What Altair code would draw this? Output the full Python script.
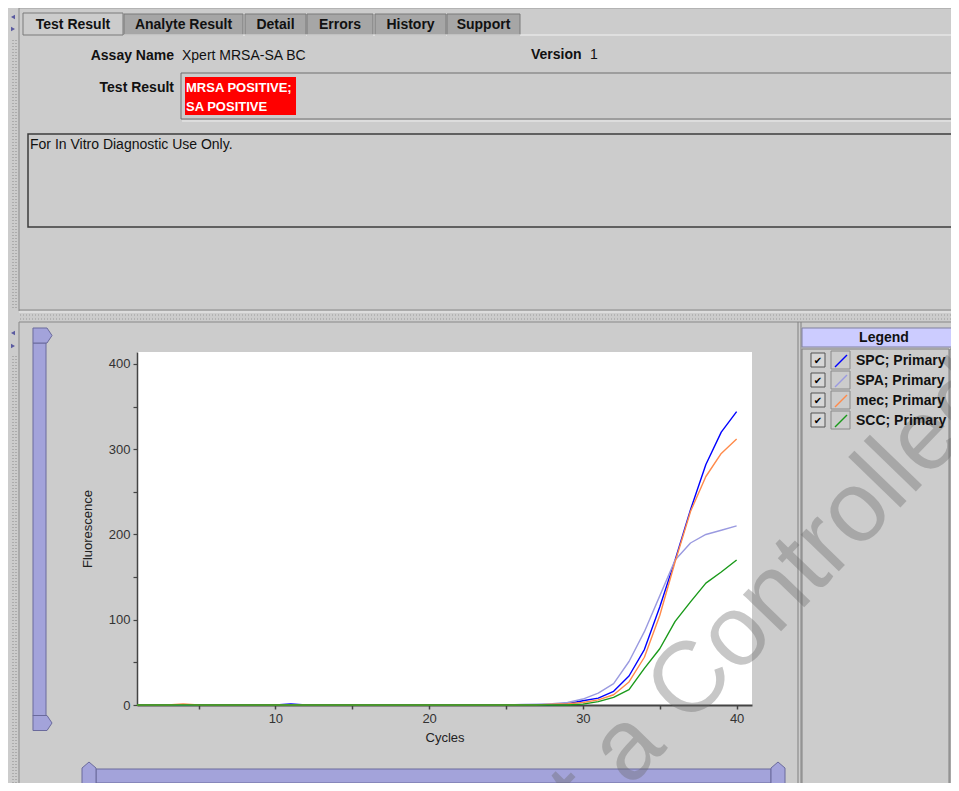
import altair as alt
import pandas as pd

# ---------------- data ----------------
cycles = list(range(1, 41))
series_names = ["SPC", "SPA", "mec", "SCC"]
series_colors = ["#0000ff", "#9a9ae0", "#ff8a4a", "#1a9a1a"]

spc = [0, 0, 0, 0, 0, 0, 0, 0, 0, 0, 1.2, 0, 0, 0, 0, 0, 0, 0, 0, 0,
       0, 0, 0, 0, 0, 0, 0, 0.5, 1.5, 5, 8, 16, 34, 65, 115, 170, 229, 282, 320, 344]
spa = [0, 0, 0, 0, 0, 0, 0, 0, 0, 0, 0, 0, 0, 0, 0, 0, 0, 0, 0, 0,
       0, 0, 0, 0, 0, 0.5, 1, 1.5, 3, 7, 14, 25, 51, 86, 128, 170, 190, 200, 205, 210]
mec = [0, 0, 0, 1.2, 0, 0, 0, 0, 0, 0, 0, 0, 0, 0, 0, 0, 0, 0, 0, 0,
       0, 0, 0, 0, 0, 0, 0, 1, 1.5, 3, 6, 12, 27, 56, 105, 168, 227, 268, 295, 312]
scc = [0, 0, 0, 0, 0, 0, 0, 0, 0, 0, 0, 0, 0, 0, 0, 0, 0, 0, 0, 0,
       0, 0, 0, 0, 0, 0, 0, 0, 0, 1, 4, 9, 18, 43, 66, 98, 121, 143, 156, 170]

x_ticks = [5, 10, 15, 20, 25, 30, 35, 40]
y_ticks = [0, 50, 100, 150, 200, 250, 300, 350, 400]

tabs = ["Test Result", "Analyte Result", "Detail", "Errors", "History", "Support"]
assay_label = "Assay Name"
assay_name = "Xpert MRSA-SA BC"
version_label = "Version"
version = "1"
result_label = "Test Result"
result_lines = ["MRSA POSITIVE;", "SA POSITIVE"]
note = "For In Vitro Diagnostic Use Only."
legend_title = "Legend"
watermark = "Not a Controlled Copy"

rows = []
for name, vals in zip(series_names, [spc, spa, mec, scc]):
    for c, v in zip(cycles, vals):
        rows.append({"Cycle": c, "Fluorescence": v, "Series": name})
df = pd.DataFrame(rows)

FONT = "Liberation Sans"
OX, OY = 137, 352          # page position of the plot origin
one = pd.DataFrame({"k": [0]})


def R(x1, y1, x2, y2, fill="transparent", stroke=None, sw=1):
    kw = dict(fill=fill)
    if stroke:
        kw.update(stroke=stroke, strokeWidth=sw)
    return alt.Chart(one).mark_rect(**kw).encode(
        x=alt.value(x1 - OX), x2=alt.value(x2 - OX),
        y=alt.value(y1 - OY), y2=alt.value(y2 - OY))


def L(x1, y1, x2, y2, color="#888888", sw=1, dash=None):
    kw = dict(color=color, strokeWidth=sw)
    if dash:
        kw["strokeDash"] = dash
    return alt.Chart(one).mark_rule(**kw).encode(
        x=alt.value(x1 - OX), x2=alt.value(x2 - OX),
        y=alt.value(y1 - OY), y2=alt.value(y2 - OY))


def T(x, y, s, size=14, bold=False, color="#000000", align="left",
      baseline="middle", font=FONT, angle=None, opacity=None):
    kw = dict(text=s, fontSize=size, font=font, color=color, align=align, baseline=baseline)
    if bold:
        kw["fontWeight"] = "bold"
    if angle is not None:
        kw["angle"] = angle
    if opacity is not None:
        kw["opacity"] = opacity
    return alt.Chart(one).mark_text(**kw).encode(x=alt.value(x - OX), y=alt.value(y - OY))


def P(x, y, shape, size=30, fill="#5a5aa0", stroke=None):
    kw = dict(shape=shape, filled=True, size=size, fill=fill, opacity=1)
    if stroke:
        kw.update(stroke=stroke, strokeWidth=1)
    else:
        kw.update(strokeWidth=0)
    return alt.Chart(one).mark_point(**kw).encode(x=alt.value(x - OX), y=alt.value(y - OY))


SLIDER = "#a3a3da"
SLIDER_EDGE = "#6a6a9c"

back = []
# frame of the top panel
back += [L(19, 8, 959, 8, "#9a9a9a"), L(19, 8, 19, 311, "#888888"),
         L(13, 40, 13, 308, "#8c8c8c", 1, [1, 2]), L(16, 40, 16, 308, "#8c8c8c", 1, [1, 2]),
         P(13, 17, "triangle-left", 22), P(13, 29, "triangle-right", 22)]
# tabs
tab_edges = [(23, 123), (124, 243), (245, 306), (307, 373), (375, 446), (447, 520)]
for i, (name, (a, b)) in enumerate(zip(tabs, tab_edges)):
    back.append(R(a, 13 if i == 0 else 14, b, 35,
                  fill="#cccccc" if i == 0 else "#a6a6a6", stroke="#7a7a7a"))
    back.append(T((a + b) / 2, 24.5, name, 14, True, "#111111", "center"))
back.append(L(124, 35, 959, 35, "#f2f2f2"))
# assay info
back += [T(174, 55.5, assay_label, 14, True, "#111111", "right"),
         T(182, 55.5, assay_name, 14, False, "#111111"),
         T(531, 55, version_label, 14, True, "#111111"),
         T(590, 55, version, 14, False, "#111111")]
# test result box
back += [R(181, 73, 965, 119, "transparent", "#6f6f6f"),
         L(182, 121, 959, 121, "#eeeeee"),
         R(185, 77, 296, 115, "#ff0000"),
         T(186, 88, result_lines[0], 13, True, "#ffffff"),
         T(186, 107, result_lines[1], 13, True, "#ffffff"),
         T(174, 88, result_label, 14, True, "#111111", "right")]
# note box
back += [R(28, 134, 965, 227, "transparent", "#3c3c3c", 1.5),
         T(30, 145, note, 14, False, "#111111")]
# separators
back += [L(19, 310, 959, 310, "#888888"), L(19, 312, 959, 312, "#eeeeee"),
         L(20, 315, 959, 315, "#9a9a9a", 1, [1, 2]), L(20, 319, 959, 319, "#9a9a9a", 1, [1, 2]),
         L(19, 322, 959, 322, "#888888"), L(19, 322, 19, 791, "#888888"),
         L(13, 356, 13, 791, "#8c8c8c", 1, [1, 2]), L(16, 356, 16, 791, "#8c8c8c", 1, [1, 2]),
         P(13, 333, "triangle-left", 22), P(13, 346, "triangle-right", 22)]
# vertical slider
back += [R(33, 343, 46, 716, SLIDER, SLIDER_EDGE),
         P(42.5, 335.5, "M-1.27,-1 L0.6,-1 L1.27,0 L0.6,1 L-1.27,1 Z", 225, SLIDER, SLIDER_EDGE),
         P(42.5, 723, "M-1.27,-1 L0.6,-1 L1.27,0 L0.6,1 L-1.27,1 Z", 225, SLIDER, SLIDER_EDGE)]
# horizontal slider
back += [R(96, 769, 771, 783, SLIDER, SLIDER_EDGE),
         P(89, 773, "M0,-1.57 L1,-0.71 L1,1.57 L-1,1.57 L-1,-0.71 Z", 196, SLIDER, SLIDER_EDGE),
         P(778, 773, "M0,-1.57 L1,-0.71 L1,1.57 L-1,1.57 L-1,-0.71 Z", 196, SLIDER, SLIDER_EDGE)]
# legend panel
back += [L(798, 322, 798, 791, "#808080"), L(801, 322, 801, 791, "#808080"),
         R(802, 328, 963, 347, "#ccccff", "#8080a0"),
         T(884, 338, legend_title, 14, True, "#111111", "center"),
         R(802, 349, 949, 796, "transparent", "#808080"),
         R(950, 349, 963, 796, "#cccccc", "#808080"),
         P(955, 357, "triangle-up", 20, "#000000"),
         P(955, 784, "triangle-down", 20, "#000000")]
for i in range(len(series_names)):
    cy = 360 + 20 * i
    back += [R(811, cy - 7, 825, cy + 7, "#d6d6d6", "#555555"),
             T(818, cy + 0.5, "\u2714", 10, False, "#000000", "center", font="DejaVu Sans"),
             R(831, cy - 9, 850, cy + 9, "#cccccc", "#8a8a8a")]

lines = alt.Chart(df).mark_line(strokeWidth=1.4, strokeJoin="round").encode(
    x=alt.X("Cycle:Q", title="Cycles",
            scale=alt.Scale(domain=[1, 41], nice=False, zero=False),
            axis=alt.Axis(values=x_ticks, labelExpr="datum.value % 10 === 0 ? datum.label : ''",
                          grid=False, domainColor="#444444", domainWidth=2, tickColor="#444444",
                          tickSize=4, tickWidth=1.5, labelFont=FONT, labelFontSize=13,
                          labelColor="#333333", labelPadding=3, labelFlush=False,
                          titleFont=FONT, titleFontSize=13, titleFontWeight="normal",
                          titleColor="#222222", titlePadding=6)),
    y=alt.Y("Fluorescence:Q", title="Fluorescence",
            scale=alt.Scale(domain=[0, 414], nice=False),
            axis=alt.Axis(values=y_ticks, labelExpr="datum.value % 100 === 0 ? datum.label : ''",
                          grid=False, domainColor="#444444", domainWidth=1.5, tickColor="#444444",
                          tickSize=4, tickWidth=1.2, labelFont=FONT, labelFontSize=13,
                          labelColor="#333333", labelPadding=3, labelFlush=False,
                          titleFont=FONT, titleFontSize=13, titleFontWeight="normal",
                          titleColor="#222222", titlePadding=14)),
    color=alt.Color("Series:N", scale=alt.Scale(domain=series_names, range=series_colors),
                    legend=alt.Legend(title=None, orient="none", legendX=697, legendY=2,
                                      symbolType="M-1,1L1,-1", symbolSize=144,
                                      symbolStrokeWidth=1.5, padding=0,
                                      labelExpr="datum.label + '; Primary'",
                                      labelFont=FONT, labelFontSize=14, labelFontWeight="bold",
                                      labelColor="#111111", labelOffset=8, rowPadding=2,
                                      labelLimit=200)),
)

front = [T(502, 920, watermark, 100, False, "#6a6a6a", "left", "alphabetic",
           angle=314, opacity=0.37)]

chart = alt.layer(*back, lines, *front).properties(
    width=615, height=353,
    padding={"left": 129, "top": 344, "right": 199, "bottom": 78},
    autosize=alt.AutoSizeParams(type="none"),
    background="#cccccc",
).configure_view(fill="white", stroke=None)

chart.save("out.html", embed_options={"renderer": "svg", "actions": False})
